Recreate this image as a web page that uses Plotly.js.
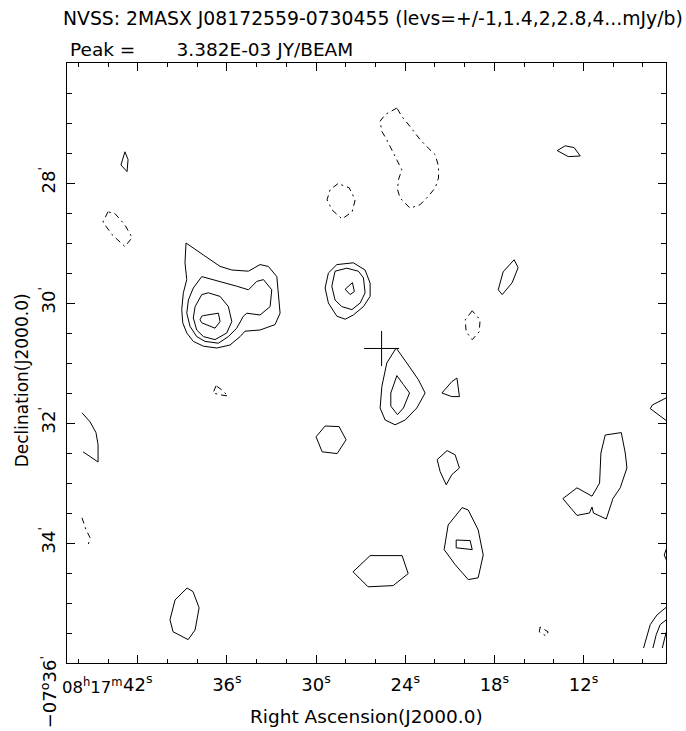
<!DOCTYPE html>
<html>
<head>
<meta charset="utf-8">
<script src="https://cdn.plot.ly/plotly-3.0.1.min.js"></script>
<style>
  html, body { margin: 0; padding: 0; background: #fff; }
  #map { width: 686px; height: 731px; }
</style>
</head>
<body>
<div id="map"></div>
<script>
// NVSS contour map around 2MASX J08172559-0730455.
// Coordinates: RA in seconds of 08h17m, Dec in arcminutes below -07°00'.

// Axis ticks
const raTickVals = [42, 36, 30, 24, 18, 12];
const raTickText = ['42<sup>s</sup>', '36<sup>s</sup>', '30<sup>s</sup>', '24<sup>s</sup>', '18<sup>s</sup>', '12<sup>s</sup>'];
const decTickVals = [28, 30, 32, 34];
const decTickText = ["28<sup>'</sup>", "30<sup>'</sup>", "32<sup>'</sup>", "34<sup>'</sup>"];

// Optical position of the galaxy
const srcRA = [25.59];
const srcDec = [30.758];

// ---- negative contours (-1 mJy/beam) ----
const negNorthRA  = [24.56, 25.35, 25.69, 25.57, 25.24, 24.79, 24.23, 24.46, 24.52, 24.34, 23.67, 22.99, 22.44, 21.98, 21.76, 21.76, 21.98, 22.44, 22.99, 23.67, 24.23, 24.56];
const negNorthDec = [26.75, 26.86, 26.97, 27.14, 27.28, 27.50, 27.78, 27.95, 28.11, 28.25, 28.42, 28.36, 28.22, 28.08, 27.92, 27.72, 27.53, 27.42, 27.28, 27.06, 26.89, 26.75];
const negMidRA  = [28.52, 29.05, 29.26, 28.92, 28.25, 27.57, 27.37, 27.77, 28.52];
const negMidDec = [28.01, 28.11, 28.28, 28.45, 28.60, 28.48, 28.28, 28.08, 28.01];
const negWestRA  = [44.00, 44.34, 43.73, 42.86, 42.38, 42.86, 43.53, 44.00];
const negWestDec = [28.48, 28.65, 28.86, 29.06, 28.91, 28.70, 28.51, 28.48];
const negEastRA  = [19.49, 19.96, 19.90, 19.49, 19.02, 18.96, 19.49];
const negEastDec = [30.13, 30.28, 30.48, 30.61, 30.48, 30.28, 30.13];
const negSmallRA  = [36.73, 36.93, 36.46, 35.92, 36.33, 36.73];
const negSmallDec = [31.38, 31.50, 31.53, 31.55, 31.45, 31.38];
const negEdgeRA  = [45.75, 45.48, 45.21, 45.35];
const negEdgeDec = [33.58, 33.78, 33.91, 34.05];
const negSouthRA  = [14.92, 14.98, 14.51, 14.38, 14.92];
const negSouthDec = [35.40, 35.48, 35.55, 35.48, 35.40];

// ---- positive contours (1, 1.4, 2, 2.8 mJy/beam) ----
// bright source to the west
const west1RA  = [38.75, 38.82, 38.70, 38.93, 39.04, 38.97, 38.70, 38.26, 37.58, 36.68, 35.79, 35.11, 34.78, 33.77, 32.76, 32.42, 32.64, 33.21, 33.77, 34.55, 35.67, 36.46, 37.58, 38.75];
const west1Dec = [29.00, 29.33, 29.61, 29.83, 30.11, 30.33, 30.50, 30.64, 30.72, 30.75, 30.70, 30.56, 30.47, 30.45, 30.36, 30.17, 29.56, 29.39, 29.36, 29.47, 29.45, 29.39, 29.20, 29.00];
const west2RA  = [37.69, 38.26, 38.59, 38.70, 38.48, 38.03, 37.47, 36.57, 35.90, 35.34, 34.89, 34.66, 33.77, 33.09, 32.98, 33.54, 33.99, 34.55, 35.34, 36.46, 37.69];
const west2Dec = [29.56, 29.75, 29.95, 30.17, 30.39, 30.56, 30.64, 30.67, 30.56, 30.42, 30.22, 30.17, 30.20, 30.06, 29.78, 29.61, 29.64, 29.78, 29.72, 29.64, 29.56];
const west3RA  = [37.69, 38.14, 38.26, 38.03, 37.58, 36.80, 36.01, 35.67, 35.90, 36.46, 37.25, 37.69];
const west3Dec = [29.86, 30.06, 30.25, 30.45, 30.56, 30.61, 30.50, 30.31, 30.06, 29.89, 29.83, 29.86];
const west4RA  = [37.69, 37.81, 37.69, 36.80, 36.46, 36.57, 37.58, 37.69];
const west4Dec = [30.22, 30.28, 30.33, 30.42, 30.31, 30.17, 30.21, 30.22];
// compact source north of the galaxy
const mid1RA  = [28.60, 29.17, 29.39, 29.17, 28.60, 28.04, 27.49, 26.81, 26.36, 26.36, 26.70, 27.49, 28.60];
const mid1Dec = [29.36, 29.50, 29.75, 30.00, 30.22, 30.27, 30.20, 30.06, 29.89, 29.67, 29.45, 29.33, 29.36];
const mid2RA  = [28.72, 28.94, 28.72, 28.27, 27.59, 27.03, 26.70, 26.81, 27.15, 27.93, 28.72];
const mid2Dec = [29.47, 29.72, 29.95, 30.06, 30.11, 30.00, 29.83, 29.58, 29.47, 29.42, 29.47];
const mid3RA  = [28.04, 27.71, 27.42, 27.55, 28.04];
const mid3Dec = [29.77, 29.86, 29.81, 29.66, 29.77];
// emission at the galaxy
const gal1RA  = [24.61, 25.24, 25.57, 25.69, 25.35, 24.68, 24.00, 23.22, 22.66, 23.11, 23.89, 24.61];
const gal1Dec = [30.75, 31.00, 31.39, 31.75, 31.95, 32.03, 31.95, 31.75, 31.50, 31.28, 31.00, 30.75];
const gal2RA  = [24.56, 24.97, 24.97, 24.52, 24.12, 23.71, 24.12, 24.56];
const gal2Dec = [31.21, 31.50, 31.72, 31.86, 31.75, 31.50, 31.36, 31.21];
// isolated 1 mJy/beam patches
const patchARA  = [42.86, 43.13, 42.72, 42.65, 42.86];
const patchADec = [27.48, 27.70, 27.81, 27.61, 27.48];
const patchBRA  = [13.23, 13.77, 13.03, 12.22, 12.63, 13.23];
const patchBDec = [27.38, 27.46, 27.56, 27.55, 27.41, 27.38];
const patchCRA  = [16.67, 17.41, 17.74, 17.47, 16.80, 16.40, 16.67];
const patchCDec = [29.28, 29.48, 29.78, 29.86, 29.66, 29.41, 29.28];
const patchDRA  = [21.53, 20.86, 20.35, 20.52, 20.86, 21.53];
const patchDDec = [31.50, 31.56, 31.56, 31.25, 31.31, 31.50];
const patchERA  = [29.39, 30.00, 29.59, 28.58, 27.98, 28.45, 29.39];
const patchEDec = [32.05, 32.23, 32.48, 32.51, 32.28, 32.06, 32.05];
const patchFRA  = [21.18, 21.85, 21.65, 21.24, 20.86, 20.35, 20.64, 21.18];
const patchFDec = [32.46, 32.61, 32.81, 33.03, 32.86, 32.75, 32.53, 32.46];
const patchG1RA  = [20.17, 21.11, 21.38, 20.64, 19.76, 19.09, 18.75, 19.09, 19.76, 20.17];
const patchG1Dec = [33.41, 33.70, 34.11, 34.36, 34.61, 34.58, 34.20, 33.78, 33.45, 33.41];
const patchG2RA  = [20.57, 20.57, 19.49, 19.63, 20.57];
const patchG2Dec = [33.95, 34.08, 34.11, 33.96, 33.95];
const patchHRA  = [26.36, 27.51, 26.50, 24.81, 23.80, 24.21, 26.36];
const patchHDec = [34.21, 34.48, 34.73, 34.71, 34.51, 34.21, 34.21];
const patchIRA  = [38.68, 39.49, 39.83, 39.62, 38.61, 38.14, 37.87, 38.28, 38.68];
const patchIDec = [34.75, 34.95, 35.28, 35.48, 35.61, 35.45, 35.08, 34.81, 34.75];
const patchJRA  = [10.54, 10.83, 10.92, 11.43, 12.44, 13.39, 12.44, 11.60, 11.43, 11.33, 10.47, 10.02, 9.53, 9.08, 9.19, 9.46, 10.54];
const patchJDec = [32.20, 32.50, 33.00, 33.22, 33.08, 33.26, 33.54, 33.50, 33.40, 33.50, 33.60, 33.26, 33.08, 32.75, 32.50, 32.16, 32.20];
// contours running off the map edges
const edgeWestRA  = [45.75, 45.21, 44.81, 44.67, 44.67, 45.68];
const edgeWestDec = [31.83, 31.98, 32.16, 32.36, 32.65, 32.48];
const edgeEastRA  = [6.43, 7.37, 7.51, 6.43];
const edgeEastDec = [31.58, 31.70, 31.76, 31.96];
const edgeEast2RA  = [6.43, 6.57, 6.43];
const edgeEast2Dec = [34.10, 34.20, 34.28];
const arcSE1RA  = [7.96, 7.51, 7.06, 6.43];
const arcSE1Dec = [35.75, 35.36, 35.20, 35.07];
const arcSE2RA  = [7.33, 7.11, 6.84, 6.43];
const arcSE2Dec = [35.75, 35.53, 35.36, 35.28];
const arcSE3RA  = [6.70, 6.57, 6.43];
const arcSE3Dec = [35.75, 35.61, 35.48];

const negContours = [
  [negNorthRA, negNorthDec], [negMidRA, negMidDec], [negWestRA, negWestDec],
  [negEastRA, negEastDec], [negSmallRA, negSmallDec], [negEdgeRA, negEdgeDec],
  [negSouthRA, negSouthDec]
];
const posContours = [
  [west1RA, west1Dec], [west2RA, west2Dec], [west3RA, west3Dec], [west4RA, west4Dec],
  [mid1RA, mid1Dec], [mid2RA, mid2Dec], [mid3RA, mid3Dec],
  [gal1RA, gal1Dec], [gal2RA, gal2Dec],
  [patchARA, patchADec], [patchBRA, patchBDec], [patchCRA, patchCDec], [patchDRA, patchDDec],
  [patchERA, patchEDec], [patchFRA, patchFDec], [patchG1RA, patchG1Dec], [patchG2RA, patchG2Dec],
  [patchHRA, patchHDec], [patchIRA, patchIDec], [patchJRA, patchJDec],
  [edgeWestRA, edgeWestDec], [edgeEastRA, edgeEastDec], [edgeEast2RA, edgeEast2Dec],
  [arcSE1RA, arcSE1Dec], [arcSE2RA, arcSE2Dec], [arcSE3RA, arcSE3Dec]
];

const FONT = 'DejaVu Sans, Liberation Sans, sans-serif';
const traces = [];
negContours.forEach(([ra, dec]) => traces.push({
  type: 'scatter', mode: 'lines', x: ra, y: dec, hoverinfo: 'skip',
  line: { color: '#000', width: 1, dash: '6px,4px,2px,4px' }
}));
posContours.forEach(([ra, dec]) => traces.push({
  type: 'scatter', mode: 'lines', x: ra, y: dec, hoverinfo: 'skip',
  line: { color: '#000', width: 1 }
}));
traces.push({
  type: 'scatter', mode: 'markers', x: srcRA, y: srcDec, hoverinfo: 'skip',
  marker: { symbol: 'cross-thin', size: 25, color: '#000', line: { color: '#000', width: 1 } }
});

const axisCommon = {
  showgrid: false, zeroline: false, showline: true, linecolor: '#000', linewidth: 1.2,
  mirror: 'ticks', ticks: 'inside', ticklen: 8, tickwidth: 1, tickcolor: '#000',
  tickfont: { family: FONT, size: 18, color: '#000' }, autorange: false, fixedrange: true
};

const layout = {
  width: 686, height: 731,
  margin: { l: 67, r: 20, t: 63, b: 68, pad: 0 },
  paper_bgcolor: '#fff', plot_bgcolor: '#fff',
  showlegend: false,
  font: { family: FONT, size: 18, color: '#000' },
  title: {
    text: 'NVSS: 2MASX J08172559-0730455 (levs=+/-1,1.4,2,2.8,4...mJy/b)',
    x: 63 / 686, xanchor: 'left', xref: 'container',
    y: 1 - 18 / 731, yanchor: 'middle', yref: 'container',
    font: { family: FONT, size: 18.8, color: '#000' }
  },
  xaxis: Object.assign({}, axisCommon, {
    range: [46.76, 6.45],
    tickmode: 'array', tickvals: raTickVals, ticktext: raTickText,
    ticklabelstandoff: 5,
    minor: { tickmode: 'linear', tick0: 0, dtick: 2, ticks: 'inside', ticklen: 4, tickcolor: '#000', tickwidth: 1, showgrid: false }
  }),
  yaxis: Object.assign({}, axisCommon, {
    range: [36, 26],
    tickmode: 'array', tickvals: decTickVals, ticktext: decTickText,
    tickangle: -90, ticklabelstandoff: 4,
    minor: { tickmode: 'linear', tick0: 0, dtick: 0.5, ticks: 'inside', ticklen: 5, tickcolor: '#000', tickwidth: 1, showgrid: false }
  }),
  annotations: [
    { text: 'Peak =\u00a0\u00a0\u00a0\u00a0\u00a0\u00a0\u00a03.382E-03 JY/BEAM', xref: 'paper', yref: 'paper',
      x: 0.002, xanchor: 'left', y: 1.022, yanchor: 'middle', showarrow: false,
      font: { family: FONT, size: 18.5, color: '#000' } },
    { text: '08<sup>h</sup>17<sup>m</sup>', xref: 'x', yref: 'paper', x: raTickVals[0], xanchor: 'right', xshift: -13,
      y: -0.038, yanchor: 'middle', showarrow: false, font: { family: FONT, size: 16.5, color: '#000' } },
    { text: "\u221207<sup>o</sup>36<sup>'</sup>", xref: 'paper', yref: 'paper', textangle: -90,
      x: -0.031, xanchor: 'center', y: -0.048, yanchor: 'middle', showarrow: false,
      font: { family: FONT, size: 18, color: '#000' } },
    { text: 'Declination(J2000.0)', xref: 'paper', yref: 'paper', textangle: -90,
      x: -0.076, xanchor: 'center', y: 0.472, yanchor: 'middle', showarrow: false,
      font: { family: FONT, size: 17, color: '#000' } },
    { text: 'Right Ascension(J2000.0)', xref: 'paper', yref: 'paper',
      x: 0.5, xanchor: 'center', y: -0.0895, yanchor: 'middle', showarrow: false,
      font: { family: FONT, size: 18.5, color: '#000' } }
  ]
};

Plotly.newPlot('map', traces, layout, { staticPlot: true, displayModeBar: false });
</script>
</body>
</html>
